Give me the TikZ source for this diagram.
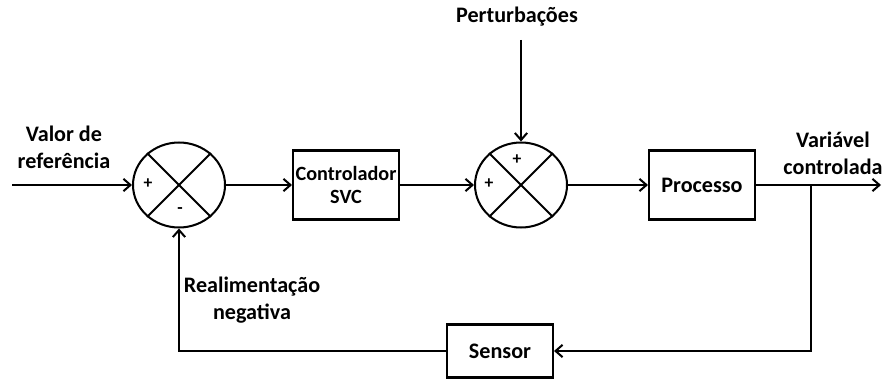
\documentclass[tikz,border=0pt]{standalone}
\usepackage{fontspec}
\setmainfont{Carlito}
\usetikzlibrary{positioning,arrows.meta,shapes.geometric,calc}
\tikzset{
  block/.style  = {draw, line width=1.15pt, align=center, minimum width=2.12cm,
                   minimum height=1.38cm, inner sep=1pt, font=\txt},
  summer/.style = {draw, ellipse, line width=1.15pt, minimum width=1.84cm,
                   minimum height=1.7cm, inner sep=0pt},
  sign/.style   = {inner sep=0pt, font=\bfseries\fontsize{10}{11}\selectfont},
  label/.style  = {align=center, inner sep=0pt, font=\txt},
  line/.style   = {line width=1.15pt},
  arrow/.style  = {-{Straight Barb[length=4pt,width=7pt]}, line width=1.15pt},
}
\newcommand{\txt}{\bfseries\fontsize{12.6}{15.3}\selectfont}
\begin{document}
\begin{tikzpicture}[x=0.02cm,y=-0.02cm]
  \useasboundingbox (0,0) rectangle (885,385);

  % blocos principais
  \node[summer] (sum1) at (179,185) {};
  \node[block, font=\bfseries\fontsize{11.5}{13.5}\selectfont] (ctrl) at (346,185) {Controlador\\SVC};
  \node[summer] (sum2) at (521,185) {};
  \node[block]  (proc) at (702,185) {Processo};
  \node[block, minimum height=1.06cm] (sens) at (500,351) {Sensor};

  \draw[line] (sum1.135) -- (sum1.-45);
  \draw[line] (sum1.45)  -- (sum1.-135);
  \draw[line] (sum2.135) -- (sum2.-45);
  \draw[line] (sum2.45)  -- (sum2.-135);

  \node[sign] (s1a) at (148,184) {+};
  \node[sign] (s1b) at (180,211) {-};
  \node[sign] (s2a) at (489,184) {+};
  \node[sign] (s2b) at (517,160) {+};

  % textos
  \node[label] (ref)  at (64,147)  {Valor de\\referência};
  \node[label] (pert) at (517,17)  {Perturbações};
  \node[label] (var)  at (833,153) {Variável\\controlada};
  \node[label] (real) at (252,300) {Realimentação\\negativa};

  \coordinate (in)     at (12,185);
  \coordinate (out)    at (881,185);
  \coordinate (branch) at (811,185);
  \coordinate (dist)   at (521,40);

  % ligacoes
  \draw[arrow] (in) -- (sum1.west);
  \draw[arrow] (sum1.east) -- (ctrl.west);
  \draw[arrow] (ctrl.east) -- (sum2.west);
  \draw[arrow] (dist) -- (sum2.north);
  \draw[arrow] (sum2.east) -- (proc.west);
  \draw[arrow] (proc.east) -- (out);
  \draw[arrow] (branch) |- (sens.east);
  \draw[arrow] (sens.west) -| (sum1.south);
\end{tikzpicture}
\end{document}
